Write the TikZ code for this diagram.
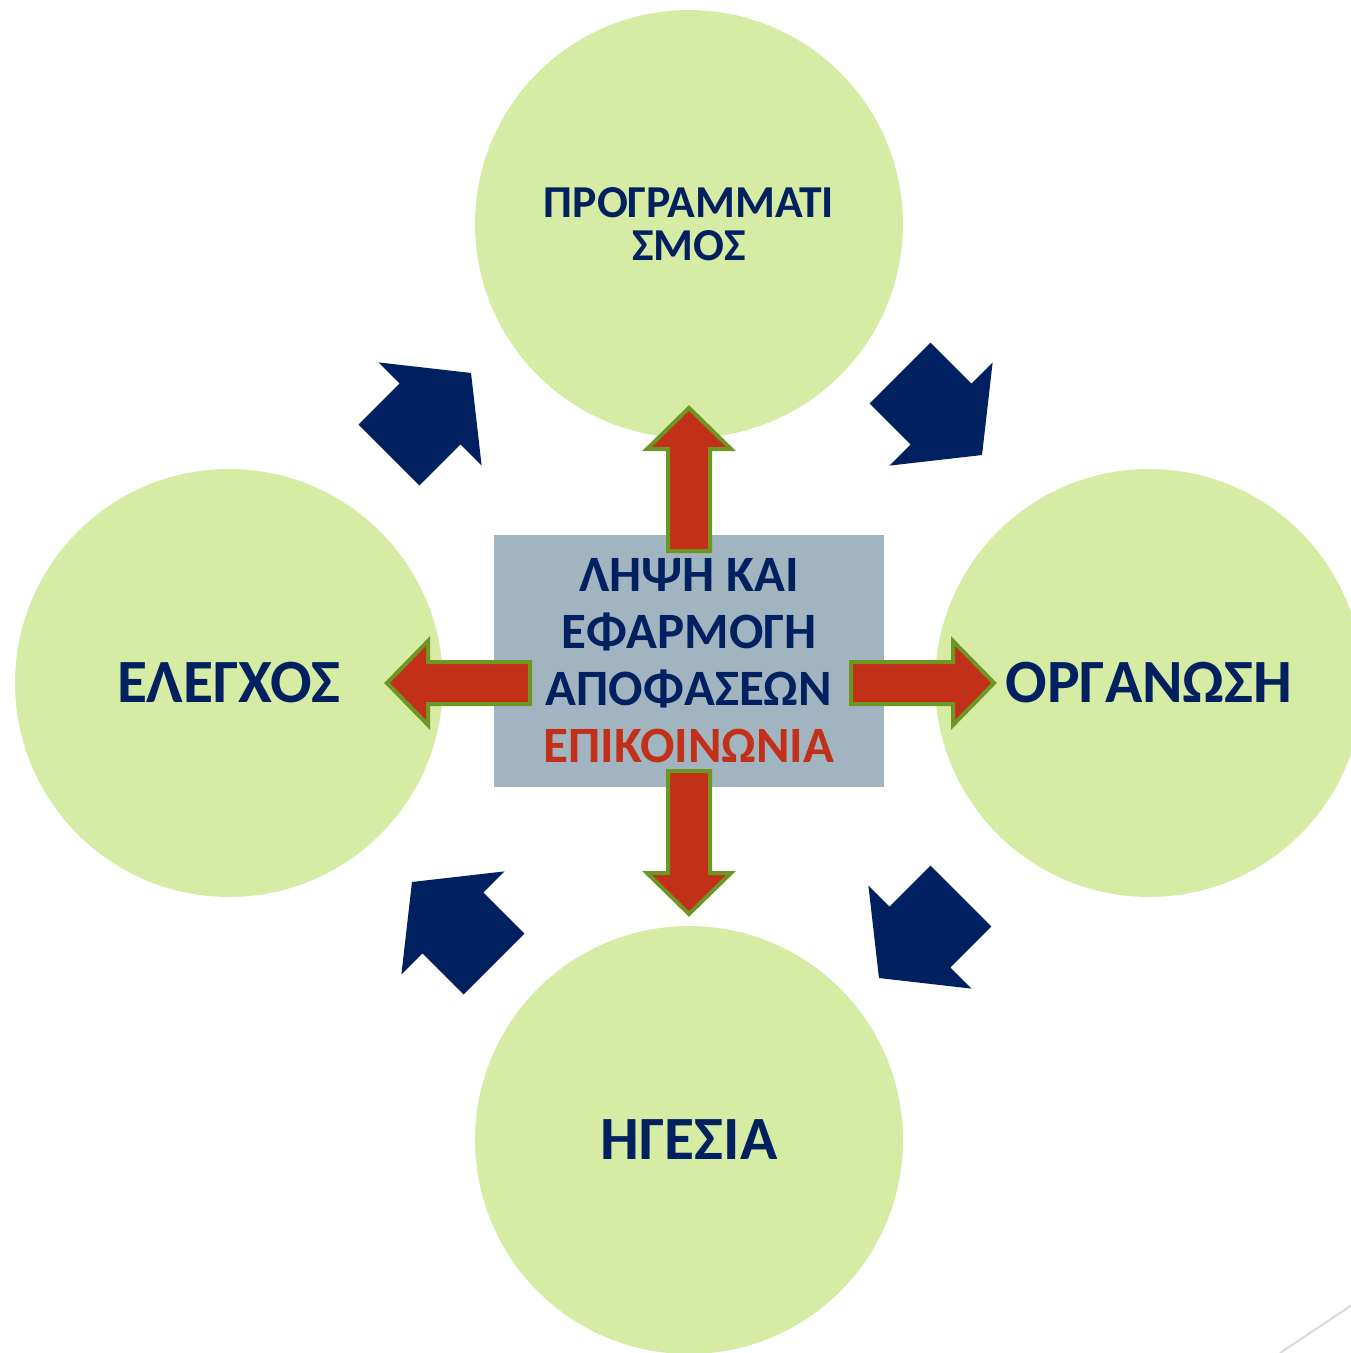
\documentclass[tikz,border=0pt]{standalone}
\usepackage{fontspec}
\setmainfont{Carlito}
\definecolor{navy}{HTML}{002060}
\definecolor{leaf}{HTML}{D6EBA3}
\definecolor{slate}{HTML}{A0B5C0}
\definecolor{brick}{HTML}{C3301A}
\definecolor{olive}{HTML}{6E9623}
\begin{document}
\begin{tikzpicture}[x=0.02cm, y=0.02cm, font=\bfseries,
	circ/.style = {circle, fill=leaf, minimum size=8.56cm, inner sep=0pt, text=navy, align=center},
	big/.style = {font=\bfseries\fontsize{35}{40}\selectfont},
	redarr/.pic = {\draw[fill=brick, draw=olive, line width=0.08cm, line join=miter]
		(0,-21) -- (102,-21) -- (102,-42) -- (143,0) -- (102,42) -- (102,21) -- (0,21) -- cycle;},
	navyarr/.pic = {\fill[navy]
		(0,-43) -- (58,-43) -- (58,-73) -- (116,0) -- (58,73) -- (58,43) -- (0,43) -- cycle;}]
	\useasboundingbox (0,0) rectangle (1350,-1353);
	
	\node[circ, font=\bfseries\fontsize{26}{24.5}\selectfont] (plan) at (689,-224) {ΠΡΟΓΡΑΜΜΑΤΙ\\ΣΜΟΣ};
	\node[circ, big] (ctrl) at (229,-683) {ΕΛΕΓΧΟΣ};
	\node[circ, big] (org) at (1149,-683) {ΟΡΓΑΝΩΣΗ};
	\node[circ, big] (lead) at (689,-1140) {ΗΓΕΣΙΑ};
	
	\node[fill=slate, minimum width=7.8cm, minimum height=5.04cm, align=center, text=navy,
		font=\bfseries\fontsize{29}{32.4}\selectfont] (dec) at (689,-661)
		{ΛΗΨΗ ΚΑΙ\\ΕΦΑΡΜΟΓΗ\\ΑΠΟΦΑΣΕΩΝ\\\textcolor{brick}{ΕΠΙΚΟΙΝΩΝΙΑ}};
	
	% red arrows from the box
	\pic[rotate=90] (up) at (689,-551) {redarr};
	\pic[rotate=-90] (down) at (689,-771) {redarr};
	\pic[rotate=180] (left) at (530,-683) {redarr};
	\pic (right) at (851,-683) {redarr};
	
	% cycle arrows
	\pic[rotate=-45] (ne) at (900,-373) {navyarr};
	\pic[rotate=-135] (se) at (961,-896) {navyarr};
	\pic[rotate=135] (sw) at (494,-964) {navyarr};
	\pic[rotate=45] (nw) at (389,-455) {navyarr};
	
	\draw[gray!30, line width=0.04cm] (1280,-1353) -- (1352,-1305);
\end{tikzpicture}
\end{document}
